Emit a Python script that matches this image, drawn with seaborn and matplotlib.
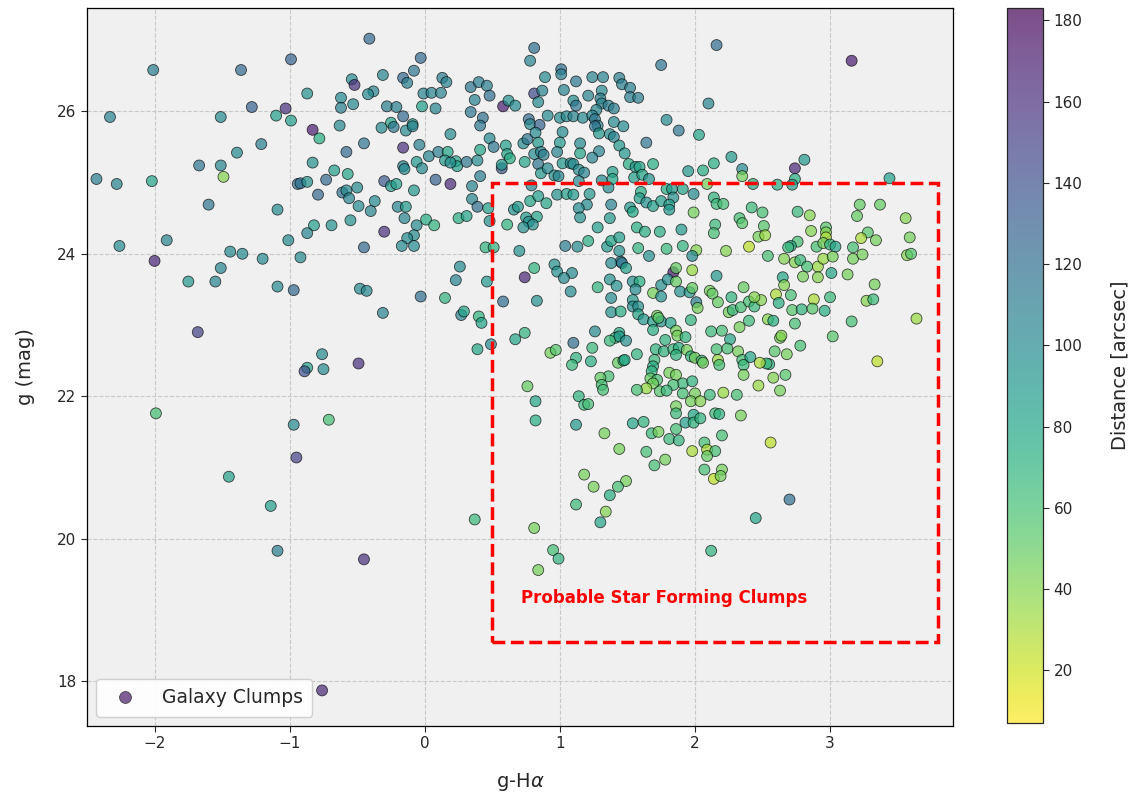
import numpy as np
import pandas as pd
import matplotlib
matplotlib.use("Agg")
import matplotlib.pyplot as plt
import seaborn as sns
from matplotlib.colors import Normalize, ListedColormap
from matplotlib.cm import ScalarMappable
from matplotlib.lines import Line2D
from matplotlib.patches import Rectangle

# colour index g - H-alpha for each clump
g_ha = [
    -0.41, -0.99, -2.01, -1.36, -0.54, -0.52, -0.38, -0.42, -0.87, -0.62,
    -0.53, -0.62, -1.28, -1.03, -1.10, -0.99, -2.33, -1.51, -0.83, -0.78,
    -0.63, -0.45, -1.21, -1.39, -0.58, -0.83, -1.67, -1.51, -1.49, -2.43,
    -2.28, -2.02, -0.67, -0.57, -0.73, -0.94, -0.92, -0.87, -0.79, -0.61,
    -0.58, -0.56, -0.50, -0.49, -0.40, -0.37, -1.60, -1.09, -0.82, -0.69,
    -0.55, -0.87, -1.01, -1.91, -2.26, -0.45, -1.44, -1.35,
    -2.00, -1.20, -1.51, -1.75, -1.55, -0.92, -1.09, -0.97, -0.48, -0.43,
    -1.68, -0.76, -0.87, -0.89, -0.75, -0.49, -1.99, -0.71, -0.97, -0.95,
    -1.45, -1.14, -1.09, -0.45, -0.76,
    0.81, 0.78, -0.03, -0.08, -0.31, -0.16, -0.13, 0.13, 0.16, -0.01,
    0.05, 0.12, 0.34, 0.40, 0.46, 0.48, 0.37, 0.58, 0.62, 0.67,
    0.81, 0.87, 0.84, 0.89, 1.01, 1.01, 1.03, -0.28, -0.21, -0.02,
    0.08, -0.16, -0.32, -0.25, -0.23, -0.14, -0.09, -0.09, 0.34, 0.43,
    0.41, 0.19, -0.16, -0.04, 0.03, 0.10, 0.17, 0.15, 0.23, 0.24,
    0.19, 0.31, 0.39, 0.41, 0.48, 0.51, 0.60, 0.61, 0.63, 0.57,
    0.57, 0.74, 0.73, 0.76, 0.77, 0.78, 0.85, 0.82, 0.84, 0.81,
    0.86, 0.88, 0.84, 0.86, 0.91, 1.00, 1.05, 1.10, 1.02, 1.00,
    0.98, 1.02, 0.91, 0.96, 0.99, 1.08, 1.10, -0.30, -0.25, -0.21,
    -0.16, -0.15, -0.06, -0.02, 0.08, 0.19, -0.08, 0.35, 0.41, -0.20,
    -0.14, -0.15, 0.01, 0.07, -0.06, -0.08, -0.13, -0.17, -0.08, -0.30,
    0.35, 0.39, 0.47, 0.25, 0.31, 0.48, 0.45, 0.51, 0.61, 0.70,
    0.66, 0.69, 0.78, 0.84, 0.90, 0.79, 0.98, 1.05, 1.10, 0.75,
    0.83, 0.77, 0.80, 0.73, 1.04,
    2.16, 1.75, 2.10, 1.79, 1.88, 2.03, 1.64, 2.27, 2.14, 2.35,
    2.35, 2.43, 2.06, 1.95, 1.69, 2.09, 1.99, 1.99, 2.14, 2.16,
    2.21, 2.15, 2.14, 2.23, 2.33, 2.35, 2.42, 2.50, 2.51, 2.47,
    2.52, 2.40, 2.01, 1.24, 1.32, 1.12, 1.44, 1.46, 1.52, 1.52,
    1.58, 1.31, 1.21, 1.10, 1.12, 1.30, 1.31, 1.36, 1.40, 1.27,
    1.17, 1.24, 1.26, 1.28, 1.26, 1.29, 1.40, 1.47, 1.37, 1.40,
    1.44, 1.48, 1.15, 1.15, 1.29, 1.24, 1.14, 1.18, 1.14, 1.22,
    1.20, 1.14, 1.15, 1.31, 1.39, 1.39, 1.36, 1.38, 1.37, 1.51,
    1.56, 1.59, 1.55, 1.61, 1.66, 1.60, 1.59, 1.64, 1.52, 1.54,
    1.69, 1.75, 1.79, 1.83, 1.84, 1.81, 1.81, 1.91, 1.57, 1.63,
    1.74, 1.90, 1.79, 1.91, 1.58, 1.44, 1.35, 1.38, 1.44, 1.21,
    1.13, 1.28,
    3.16, 2.81, 2.74, 2.74, 2.61, 2.72, 3.44, 3.22, 3.37, 3.20,
    3.56, 2.76, 2.85, 2.86, 2.97, 2.97, 2.97, 3.28, 3.23, 3.34,
    3.59, 2.76, 2.71, 2.69, 2.90, 2.95, 3.00, 3.04, 3.17,
    2.54, 2.66, 2.74, 2.78, 2.83, 2.80, 2.65, 2.66, 2.91, 2.95,
    2.91, 3.02, 3.01, 3.17, 3.24, 3.13, 3.33, 3.57, 3.60, 2.60,
    2.71, 2.62, 2.88, 3.00, 3.27, 3.32, 2.72, 2.79, 2.87, 2.96,
    2.54, 2.58, 2.74, 3.16, 3.64, 2.63, 2.64, 3.02, 2.78, 2.59,
    2.68, 2.55, 2.53, 3.35, 2.58, 2.67, 2.63, 2.56,
    1.66, 1.98, 1.45, 1.38, 1.46, 1.49, 1.84, 1.86, 1.98, 2.16,
    1.09, 1.28, 1.37, 1.42, 1.54, 1.59, 1.56, 1.69, 1.75, 1.80,
    1.86, 1.89, 1.96, 1.98, 1.75, 2.01, 2.02, 2.11, 2.13, 2.17,
    2.27, 2.36, 2.25, 2.28, 2.34, 2.40, 2.44, 2.49, 2.44, 2.40,
    2.33, 1.38, 1.38, 1.45, 1.54, 1.54, 1.58, 1.58, 1.62, 1.69,
    1.69, 1.72, 1.75, 1.82, 1.73, 1.86, 1.87, 1.93, 1.97, 2.12,
    2.20, 2.26, 1.26, 1.44, 1.41, 1.44, 1.49, 1.37, 1.10, 1.24,
    1.12, 1.09, 1.23, 1.43, 1.47, 1.48, 1.57, 1.71, 1.78, 1.77,
    1.70, 1.69, 1.68, 1.84, 1.88, 1.86, 1.94, 1.97, 2.00, 2.05,
    2.06, 2.16, 2.17, 2.18, 2.24, 2.32, 2.35, 2.36, 2.41, 2.48,
    2.36, 2.47, 1.81, 1.86, 1.91, 1.98, 2.00, 1.91, 1.84, 1.67,
    1.72, 1.69, 1.64, 1.57, 1.74, 1.79, 1.36, 1.30, 1.31, 1.32,
    1.14, 1.18, 1.21, 1.12, 1.33, 1.54, 1.62, 1.44, 1.68, 1.73,
    1.81, 1.88, 1.86, 1.86, 1.86, 1.93, 1.99, 1.99, 1.97, 2.04,
    2.04, 2.11, 2.21, 2.31, 2.15, 2.18, 2.34, 2.20, 2.07, 2.09,
    2.15, 2.09, 1.98, 1.64, 1.78, 1.70, 2.07, 2.20, 2.14, 2.19,
    1.18, 1.49, 1.43, 1.25,
    0.26, 0.23, 0.46, -0.03, 0.15, -0.31, 0.27, 0.29, 0.40, 0.42,
    0.58, 0.81, 0.74, 0.83, 0.96, 0.98, 1.03, 1.08, 0.74, 0.67,
    0.49, 0.39, 0.93, 0.97, 0.76, 0.82, 0.82,
    1.37, 1.12, 1.34, 1.30, 0.37, 0.81, 0.95, 0.99, 0.84, 2.70,
    2.45, 2.12,
]

# g-band magnitude for each clump
g_mag = [
    27.02, 26.73, 26.58, 26.58, 26.45, 26.37, 26.28, 26.24, 26.25, 26.19,
    26.10, 26.05, 26.06, 26.04, 25.94, 25.87, 25.92, 25.92, 25.74, 25.62,
    25.80, 25.55, 25.54, 25.42, 25.43, 25.28, 25.24, 25.24, 25.08, 25.05,
    24.98, 25.02, 25.17, 25.12, 25.04, 24.98, 24.99, 25.01, 24.83, 24.86,
    24.89, 24.78, 24.93, 24.67, 24.60, 24.74, 24.69, 24.62, 24.40, 24.40,
    24.47, 24.29, 24.19, 24.19, 24.11, 24.09, 24.03, 24.00,
    23.90, 23.93, 23.80, 23.61, 23.61, 23.95, 23.54, 23.49, 23.51, 23.48,
    22.90, 22.59, 22.40, 22.35, 22.38, 22.46, 21.76, 21.67, 21.60, 21.14,
    20.87, 20.46, 19.83, 19.71, 17.87,
    26.89, 26.71, 26.75, 26.57, 26.51, 26.47, 26.40, 26.47, 26.41, 26.25,
    26.26, 26.26, 26.34, 26.41, 26.36, 26.22, 26.16, 26.07, 26.15, 26.08,
    26.25, 26.29, 26.13, 26.48, 26.59, 26.52, 26.30, 26.07, 26.06, 26.07,
    26.04, 25.93, 25.77, 25.84, 25.78, 25.73, 25.82, 25.79, 25.99, 25.91,
    25.80, 25.68, 25.49, 25.53, 25.37, 25.43, 25.43, 25.31, 25.30, 25.23,
    25.28, 25.29, 25.31, 25.46, 25.62, 25.50, 25.52, 25.40, 25.34, 25.20,
    25.25, 25.29, 25.55, 25.61, 25.89, 25.82, 25.81, 25.70, 25.56, 25.40,
    25.43, 25.39, 25.26, 25.13, 25.94, 25.91, 25.93, 25.93, 25.71, 25.56,
    25.43, 25.27, 25.20, 25.10, 25.09, 25.27, 25.26, 25.02, 24.95, 24.98,
    25.23, 25.19, 25.29, 25.20, 25.04, 24.98, 24.89, 24.95, 25.09, 24.66,
    24.66, 24.50, 24.48, 24.40, 24.40, 24.26, 24.22, 24.11, 24.11, 24.31,
    24.77, 24.66, 24.64, 24.50, 24.53, 24.46, 24.09, 24.09, 24.41, 24.04,
    24.62, 24.66, 24.74, 24.81, 24.71, 24.96, 24.83, 24.84, 24.83, 24.51,
    24.52, 24.45, 24.41, 24.37, 24.11,
    26.93, 26.65, 26.11, 25.88, 25.73, 25.67, 25.56, 25.36, 25.27, 25.19,
    25.09, 24.98, 25.17, 25.16, 25.26, 24.98, 24.84, 24.58, 24.79, 24.70,
    24.70, 24.41, 24.29, 24.04, 24.50, 24.43, 24.65, 24.58, 24.39, 24.24,
    24.26, 24.10, 24.05, 26.48, 26.48, 26.42, 26.47, 26.38, 26.33, 26.20,
    26.19, 26.29, 26.22, 26.15, 26.08, 26.18, 26.11, 26.08, 26.04, 26.02,
    25.91, 25.94, 25.89, 25.80, 25.79, 25.69, 25.85, 25.79, 25.68, 25.64,
    25.52, 25.41, 25.55, 25.41, 25.44, 25.35, 25.18, 25.14, 25.02, 24.84,
    24.69, 24.64, 24.51, 25.03, 25.15, 25.05, 24.93, 24.69, 24.50, 25.26,
    25.22, 25.22, 25.07, 25.11, 25.05, 24.87, 24.78, 24.72, 24.65, 24.59,
    24.67, 24.74, 24.91, 24.91, 24.79, 24.69, 24.62, 24.91, 24.37, 24.31,
    24.31, 24.34, 24.07, 24.11, 24.08, 24.04, 24.10, 24.18, 24.23, 24.18,
    24.10, 24.37,
    26.71, 25.32, 25.20, 25.05, 24.97, 24.97, 25.06, 24.69, 24.69, 24.53,
    24.50, 24.59, 24.54, 24.32, 24.37, 24.30, 24.23, 24.30, 24.22, 24.19,
    24.23, 24.17, 24.11, 24.09, 24.10, 24.15, 24.13, 24.10, 24.09,
    23.97, 23.93, 23.88, 23.91, 23.82, 23.68, 23.67, 23.56, 23.82, 23.93,
    23.67, 23.96, 23.73, 23.93, 23.99, 23.71, 23.57, 23.98, 24.00, 23.43,
    23.42, 23.31, 23.36, 23.39, 23.34, 23.36, 23.21, 23.22, 23.23, 23.20,
    23.08, 23.06, 23.02, 23.05, 23.09, 22.82, 22.85, 22.84, 22.71, 22.63,
    22.59, 22.45, 22.46, 22.49, 22.26, 22.30, 22.08, 21.35,
    23.97, 23.97, 23.89, 23.87, 23.87, 23.80, 23.74, 23.80, 23.77, 23.69,
    23.73, 23.53, 23.64, 23.55, 23.61, 23.61, 23.50, 23.45, 23.56, 23.64,
    23.61, 23.47, 23.46, 23.52, 23.40, 23.32, 23.24, 23.48, 23.44, 23.32,
    23.39, 23.53, 23.18, 23.21, 23.25, 23.33, 23.26, 23.35, 23.39, 23.06,
    22.97, 23.38, 23.18, 23.19, 23.35, 23.26, 23.26, 23.15, 23.08, 23.05,
    22.93, 23.13, 23.05, 23.03, 23.10, 22.92, 22.85, 22.83, 23.07, 22.91,
    22.92, 22.80, 22.91, 22.89, 22.82, 22.84, 22.78, 22.78, 22.75, 22.68,
    22.54, 22.44, 22.49, 22.47, 22.50, 22.51, 22.59, 22.66, 22.79, 22.63,
    22.51, 22.42, 22.35, 22.66, 22.68, 22.58, 22.65, 22.56, 22.54, 22.50,
    22.47, 22.66, 22.51, 22.44, 22.67, 22.63, 22.51, 22.44, 22.55, 22.47,
    22.30, 22.15, 22.33, 22.30, 22.18, 22.21, 22.04, 22.04, 22.16, 22.25,
    22.23, 22.18, 22.11, 22.09, 22.07, 22.08, 22.28, 22.26, 22.16, 22.09,
    22.00, 21.88, 21.89, 21.60, 21.48, 21.62, 21.64, 21.26, 21.48, 21.50,
    21.40, 21.38, 21.54, 21.86, 21.76, 21.63, 21.74, 21.63, 21.93, 21.93,
    21.69, 22.02, 22.05, 22.02, 21.76, 21.75, 21.73, 21.45, 21.35, 21.25,
    21.23, 21.16, 21.23, 21.22, 21.11, 21.03, 20.97, 20.97, 20.84, 20.88,
    20.90, 20.81, 20.73, 20.73,
    23.82, 23.63, 23.61, 23.40, 23.38, 23.17, 23.14, 23.19, 23.12, 23.03,
    23.33, 23.80, 23.67, 23.34, 23.85, 23.75, 23.66, 23.47, 22.89, 22.80,
    22.73, 22.66, 22.61, 22.65, 22.14, 21.93, 21.66,
    20.61, 20.48, 20.38, 20.23, 20.27, 20.15, 19.84, 19.72, 19.56, 20.55,
    20.29, 19.83,
]

# projected distance of each clump [arcsec]
distance = [
    125, 130, 110, 125, 100, 160, 105, 100, 95, 100,
    100, 110, 130, 160, 85, 85, 105, 100, 170, 75,
    100, 115, 110, 100, 125, 95, 115, 105, 40, 110,
    105, 80, 85, 80, 125, 115, 120, 95, 125, 120,
    100, 105, 100, 100, 105, 100, 115, 100, 85, 95,
    95, 105, 100, 105, 100, 125, 100, 100,
    165, 100, 105, 90, 105, 100, 100, 125, 100, 100,
    150, 100, 85, 140, 100, 160, 60, 60, 100, 150,
    85, 85, 110, 160, 165,
    120, 105, 125, 115, 105, 125, 110, 110, 105, 105,
    105, 105, 115, 110, 110, 120, 105, 170, 95, 100,
    145, 105, 100, 100, 120, 110, 105, 110, 110, 85,
    105, 125, 100, 80, 115, 100, 90, 105, 115, 120,
    115, 100, 160, 110, 105, 110, 80, 90, 80, 85,
    95, 115, 100, 80, 100, 115, 85, 80, 75, 135,
    90, 80, 100, 115, 125, 100, 130, 100, 90, 100,
    105, 110, 115, 90, 100, 100, 100, 105, 100, 90,
    105, 90, 100, 95, 105, 100, 100, 135, 90, 85,
    110, 100, 90, 100, 130, 165, 90, 105, 110, 105,
    90, 105, 75, 70, 100, 100, 100, 100, 100, 160,
    105, 120, 85, 75, 80, 95, 70, 70, 70, 95,
    95, 90, 80, 85, 80, 100, 95, 85, 90, 90,
    80, 95, 95, 95, 110,
    120, 115, 105, 100, 115, 80, 115, 90, 75, 100,
    45, 75, 75, 90, 75, 45, 100, 45, 70, 65,
    60, 65, 60, 40, 60, 55, 65, 60, 55, 45,
    35, 25, 40, 105, 105, 115, 110, 110, 110, 110,
    110, 100, 105, 100, 115, 110, 105, 110, 110, 105,
    100, 105, 115, 105, 115, 90, 100, 100, 100, 105,
    90, 90, 100, 80, 105, 105, 100, 105, 100, 90,
    100, 100, 95, 100, 85, 80, 100, 105, 90, 75,
    90, 80, 85, 80, 95, 75, 85, 95, 90, 80,
    85, 85, 75, 90, 95, 85, 90, 80, 75, 75,
    75, 90, 65, 70, 70, 95, 90, 80, 85, 75,
    100, 85,
    170, 90, 165, 75, 75, 85, 85, 50, 50, 50,
    40, 65, 40, 40, 55, 40, 30, 55, 30, 45,
    45, 60, 80, 65, 60, 45, 70, 80, 60,
    60, 40, 40, 65, 60, 45, 80, 40, 35, 35,
    40, 45, 80, 45, 45, 45, 45, 40, 55, 30,
    60, 75, 30, 65, 40, 65, 55, 70, 55, 75,
    40, 75, 60, 60, 35, 45, 40, 55, 60, 55,
    45, 70, 65, 25, 40, 55, 45, 25,
    95, 100, 110, 100, 115, 85, 170, 50, 35, 90,
    100, 70, 95, 95, 95, 75, 100, 45, 95, 95,
    50, 95, 90, 50, 95, 110, 45, 45, 50, 50,
    70, 50, 45, 65, 60, 60, 65, 40, 40, 65,
    45, 100, 95, 75, 90, 100, 95, 80, 90, 85,
    75, 45, 95, 80, 55, 45, 45, 70, 70, 65,
    60, 80, 100, 75, 65, 90, 95, 65, 120, 65,
    70, 65, 75, 50, 65, 80, 70, 70, 70, 70,
    65, 75, 70, 65, 75, 70, 45, 70, 45, 65,
    45, 60, 35, 60, 60, 45, 60, 65, 80, 30,
    45, 35, 45, 45, 65, 70, 45, 60, 60, 50,
    60, 45, 35, 60, 55, 65, 60, 50, 60, 60,
    70, 65, 60, 90, 45, 80, 70, 45, 65, 45,
    65, 70, 60, 45, 65, 85, 80, 70, 45, 40,
    70, 65, 35, 60, 65, 70, 45, 60, 60, 30,
    60, 50, 30, 60, 45, 60, 60, 45, 25, 45,
    45, 45, 60, 45,
    100, 105, 90, 120, 70, 105, 105, 80, 70, 80,
    120, 70, 165, 95, 95, 95, 100, 100, 70, 80,
    100, 80, 45, 55, 50, 80, 75,
    75, 65, 40, 80, 65, 45, 60, 70, 45, 120,
    80, 70,
]

x_ticks = [-2, -1, 0, 1, 2, 3]
y_ticks = [18, 20, 22, 24, 26]
cbar_ticks = [20, 40, 60, 80, 100, 120, 140, 160, 180]

# selection box for star-forming candidates (g-Hα range, g range)
box_x = (0.5, 3.8)
box_y = (18.55, 25.0)
box_label = "Probable Star Forming Clumps"
legend_label = "Galaxy Clumps"

assert len(g_ha) == len(g_mag) == len(distance)

sns.set_style("ticks")
plt.rcParams["font.family"] = ["DejaVu Sans"]

df = pd.DataFrame({"g_ha": g_ha, "g": g_mag, "dist": distance})

fig = plt.figure(figsize=(11.33, 7.96), dpi=100)
ax = fig.add_axes([0.0768, 0.0879, 0.7643, 0.902])
cax = fig.add_axes([0.8888, 0.0917, 0.0318, 0.898])

ax.set_facecolor("#f0f0f0")
norm = Normalize(vmin=7, vmax=183)
alpha = 0.7

sns.scatterplot(
    data=df, x="g_ha", y="g", hue="dist", palette="viridis_r", hue_norm=norm,
    s=62, alpha=alpha, edgecolor="black", linewidth=0.6, legend=False,
    ax=ax, zorder=3,
)

ax.add_patch(Rectangle(
    (box_x[0], box_y[0]), box_x[1] - box_x[0], box_y[1] - box_y[0],
    fill=False, edgecolor="red", linestyle="--", linewidth=2.5, zorder=4,
))
ax.text(0.71, 19.17, box_label, color="red", fontweight="bold",
        fontsize=12, va="center", ha="left", zorder=5)

ax.set_xlim(-2.5, 3.91)
ax.set_ylim(17.37, 27.45)
ax.set_xticks(x_ticks)
ax.set_yticks(y_ticks)
ax.tick_params(labelsize=11, length=4, width=0.8)
ax.grid(True, linestyle="--", color="#c8c8c8", linewidth=0.8)
ax.set_axisbelow(True)
for sp in ax.spines.values():
    sp.set_visible(True)
    sp.set_color("black")
    sp.set_linewidth(0.9)

ax.set_xlabel("g-H$\\alpha$", fontsize=14, labelpad=14)
ax.set_ylabel("g (mag)", fontsize=14, labelpad=16)

# colour bar shares the translucency of the markers
cmap = plt.get_cmap("viridis_r")
rgba = cmap(np.linspace(0, 1, 256))
rgba[:, :3] = rgba[:, :3] * alpha + (1 - alpha)
faded = ListedColormap(rgba)
cb = fig.colorbar(ScalarMappable(norm=norm, cmap=faded), cax=cax, ticks=cbar_ticks)
cb.set_label("Distance [arcsec]", fontsize=14, labelpad=20)
cb.outline.set_linewidth(0.9)
cax.tick_params(labelsize=11, length=4)

handle = Line2D([], [], marker="o", linestyle="", markersize=8.5,
                markerfacecolor=faded(norm(172)), markeredgecolor="#444444",
                markeredgewidth=0.6)
ax.legend([handle], [legend_label], loc="lower left", fontsize=13.5,
          frameon=True, framealpha=0.9, borderpad=0.5, handletextpad=1.0)

fig.savefig("out.png", dpi=100)
